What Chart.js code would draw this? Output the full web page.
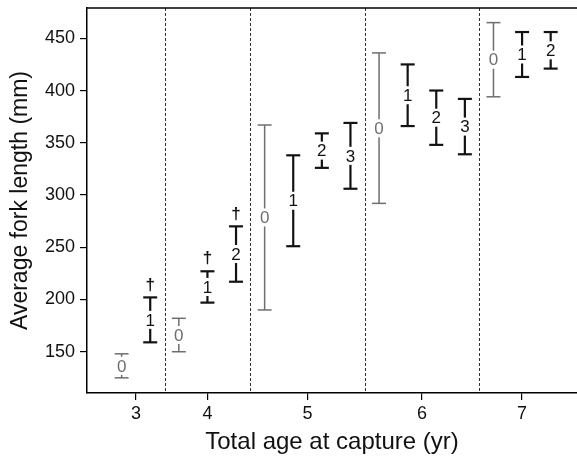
<!DOCTYPE html>
<html>
<head>
<meta charset="utf-8">
<script src="https://cdn.jsdelivr.net/npm/chart.js@4.4.1/dist/chart.umd.min.js"></script>
<style>
    html, body { margin: 0; padding: 0; background: #fff; }
    #wrap { width: 577px; height: 457px; }
</style>
</head>
<body>
<div id="wrap"><canvas id="chart-div" width="577" height="457"></canvas></div>
<script>
// one entry per error bar, left to right
var ages     = [3, 3, 4, 4, 4, 5, 5, 5, 5, 6, 6, 6, 6, 7, 7, 7];
var cohorts  = [0, 1, 0, 1, 2, 0, 1, 2, 3, 0, 1, 2, 3, 0, 1, 2];
var upperFL  = [148, 202, 182, 227, 270, 367, 338, 359, 369, 436, 425, 400, 392, 465, 456, 456];
var lowerFL  = [125, 159, 150, 197, 217, 190, 251, 326, 306, 292, 366, 348, 339, 394, 413, 421];
var daggers  = [false, true, false, true, true, false, false, false, false, false, false, false, false, false, false, false];
var ageTicks = [3, 4, 5, 6, 7];
var yTicks   = [150, 200, 250, 300, 350, 400, 450];

var fontFam = "'Liberation Sans', Arial, Helvetica, sans-serif",
    grayCol = '#6e6e6e',
    blackCol = '#121212';

function colorOf(i) { return cohorts[i] === 0 ? grayCol : blackCol; }
function widthOf(i) { return cohorts[i] === 0 ? 1.5 : 2.2; }

// x position of a tick = middle of its group of bars
var tickPos = ageTicks.map(function (a) {
    var idx = [];
    ages.forEach(function (g, i) { if (g === a) idx.push(i); });
    return (idx[0] + idx[idx.length - 1]) / 2;
});
// separators between age groups
var separators = [];
for (var i = 1; i < ages.length; i++) {
    if (ages[i] !== ages[i - 1]) separators.push(i - 0.5);
}

var errorBars = {
    id: 'errorBars',
    beforeDatasetsDraw: function (chart) {
        var ctx = chart.ctx, xs = chart.scales.x, ys = chart.scales.y, area = chart.chartArea;
        ctx.save();
        // dashed separators
        ctx.strokeStyle = '#333';
        ctx.lineWidth = 1;
        ctx.setLineDash([3, 2]);
        separators.forEach(function (s) {
            var px = Math.round(xs.getPixelForValue(s)) + 0.5;
            ctx.beginPath();
            ctx.moveTo(px, area.top);
            ctx.lineTo(px, area.bottom);
            ctx.stroke();
        });
        ctx.setLineDash([]);
        // top frame line
        ctx.strokeStyle = '#000';
        ctx.lineWidth = 1.5;
        ctx.beginPath();
        ctx.moveTo(area.left, area.top);
        ctx.lineTo(area.right, area.top);
        ctx.stroke();

        // stems, broken round the cohort label
        ctx.font = '17px ' + fontFam;
        ctx.textAlign = 'center';
        ctx.textBaseline = 'middle';
        for (var i = 0; i < ages.length; i++) {
            var px = xs.getPixelForValue(i),
                top = ys.getPixelForValue(upperFL[i]),
                bot = ys.getPixelForValue(lowerFL[i]),
                mid = (top + bot) / 2,
                gap = 9;
            ctx.strokeStyle = colorOf(i);
            ctx.lineWidth = widthOf(i);
            if (mid - gap > top) {
                ctx.beginPath(); ctx.moveTo(px, top); ctx.lineTo(px, mid - gap); ctx.stroke();
                ctx.beginPath(); ctx.moveTo(px, mid + gap); ctx.lineTo(px, bot); ctx.stroke();
            }
            ctx.fillStyle = colorOf(i);
            ctx.fillText(String(cohorts[i]), px, mid + 1);
            if (daggers[i]) {
                ctx.fillStyle = blackCol;
                ctx.textBaseline = 'bottom';
                ctx.font = 'bold 17px ' + fontFam;
                ctx.fillText('\u2020', px, top - 4);
                ctx.font = '17px ' + fontFam;
                ctx.textBaseline = 'middle';
            }
        }
        ctx.restore();
    }
};

var capData = function (arr) {
    return arr.map(function (v, i) { return { x: i, y: v }; });
};

var capStyle = {
    pointStyle: 'line',
    pointRadius: 7,
    pointHoverRadius: 7,
    borderColor: function (c) { return colorOf(c.dataIndex); },
    pointBorderWidth: function (c) { return widthOf(c.dataIndex); },
    showLine: false
};

var config = {
    type: 'scatter',
    data: {
        datasets: [
            Object.assign({ label: 'upper', data: capData(upperFL) }, capStyle),
            Object.assign({ label: 'lower', data: capData(lowerFL) }, capStyle)
        ]
    },
    options: {
        responsive: false,
        animation: false,
        layout: { autoPadding: false, padding: { top: 8, right: 0, left: 0, bottom: 0 } },
        plugins: {
            legend: { display: false },
            tooltip: { enabled: false }
        },
        scales: {
            x: {
                type: 'linear',
                min: -1.21,
                max: 15.92,
                afterFit: function (s) {
                    s.height = 64;
                    s.paddingLeft = 0;
                    s.paddingRight = 0;
                },
                afterBuildTicks: function (s) {
                    s.ticks = tickPos.map(function (p) { return { value: p }; });
                },
                ticks: {
                    autoSkip: false,
                    maxRotation: 0,
                    padding: 3,
                    color: '#111',
                    font: { family: fontFam, size: 18 },
                    callback: function (v, idx) { return String(ageTicks[idx]); }
                },
                grid: { drawOnChartArea: false, drawTicks: true, tickLength: 7, color: '#000', lineWidth: 1.2 },
                border: { display: true, color: '#000', width: 1.5 },
                title: {
                    display: true,
                    text: 'Total age at capture (yr)',
                    color: '#111',
                    font: { family: fontFam, size: 24 },
                    padding: { top: 0, bottom: 0 }
                }
            },
            y: {
                type: 'linear',
                min: 110.5,
                max: 479,
                afterFit: function (s) {
                    s.width = 87;
                    s.paddingTop = 0;
                    s.paddingBottom = 0;
                },
                afterBuildTicks: function (s) {
                    s.ticks = yTicks.map(function (v) { return { value: v }; });
                },
                ticks: {
                    padding: 5,
                    color: '#111',
                    font: { family: fontFam, size: 18 }
                },
                grid: { drawOnChartArea: false, drawTicks: true, tickLength: 7, color: '#000', lineWidth: 1.2 },
                border: { display: true, color: '#000', width: 1.5 },
                title: {
                    display: true,
                    text: 'Average fork length (mm)',
                    color: '#111',
                    font: { family: fontFam, size: 23 },
                    padding: { top: 7, bottom: 0 }
                }
            }
        }
    },
    plugins: [errorBars]
};

var ctx = document.getElementById('chart-div').getContext('2d');
var chart = new Chart(ctx, config);
</script>
</body>
</html>
